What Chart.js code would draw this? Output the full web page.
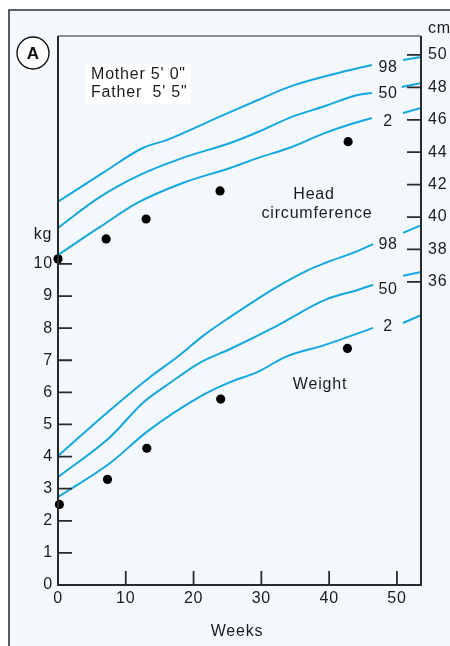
<!DOCTYPE html>
<html>
<head>
<meta charset="utf-8">
<script src="https://cdn.jsdelivr.net/npm/chart.js@4/dist/chart.umd.min.js"></script>
<style>
html,body{margin:0;padding:0;background:#fff;}
#c{display:block;}
</style>
</head>
<body>
<canvas id="c" width="450" height="646"></canvas>
<script>
// ---- Data (weeks on x; weight in kg on left axis; head circumference in cm on right axis) ----
const xTicks = [0, 10, 20, 30, 40, 50];
const kgTicks = [0, 1, 2, 3, 4, 5, 6, 7, 8, 9, 10];
const cmTicks = [36, 38, 40, 42, 44, 46, 48, 50];

// Head circumference percentile curves (null = gap where the percentile label sits)
const head98Weeks = [0, 6.6, 12.5, 16.1, 24.6, 29.5, 34.5, 41.9, 46.3, 48.6, 50.9, 53.6];
const head98Cm    = [40.95, 42.72, 44.26, 44.76, 46.33, 47.22, 48.09, 48.95, 49.38, null, 49.69, 49.88];
const head50Weeks = [0, 6.2, 12.1, 18.4, 25.4, 29.5, 34.5, 39.4, 44.2, 46.3, 48.6, 50.7, 53.6];
const head50Cm    = [39.33, 41.24, 42.60, 43.65, 44.57, 45.25, 46.18, 46.85, 47.53, 47.66, null, 48.03, 48.27];
const head2Weeks  = [0, 6.2, 11.7, 18.4, 25.4, 29.5, 34.5, 39.4, 42.8, 46.3, 48.6, 50.9, 53.6];
const head2Cm     = [37.66, 39.39, 40.87, 42.10, 43.03, 43.65, 44.32, 45.19, 45.68, 46.11, null, 46.42, 46.73];

// Weight percentile curves
const weight98Weeks = [0, 7.7, 13.6, 17.6, 21.4, 25.4, 32.0, 36.9, 39.4, 44.2, 46.5, 48.6, 50.9, 53.6];
const weight98Kg    = [4.02, 5.45, 6.48, 7.10, 7.76, 8.35, 9.25, 9.81, 10.03, 10.40, 10.62, null, 10.97, 11.21];
const weight50Weeks = [0, 7.7, 12.5, 16.5, 20.9, 25.4, 32.0, 39.4, 44.2, 46.5, 48.6, 50.9, 53.6];
const weight50Kg    = [3.36, 4.61, 5.67, 6.29, 6.92, 7.35, 8.04, 8.88, 9.19, 9.35, null, 9.63, 9.75];
const weight2Weeks  = [0, 7.7, 13.1, 21.4, 25.4, 29.5, 33.5, 39.4, 46.5, 48.6, 50.9, 53.6];
const weight2Kg     = [2.74, 3.80, 4.77, 5.92, 6.32, 6.64, 7.10, 7.48, 8.01, null, 8.16, 8.41];

// Measured child
const headDotWeeks = [0, 7.1, 13.0, 23.9, 42.8];
const headDotCm    = [37.42, 38.65, 39.88, 41.61, 44.65];
const weightDotWeeks = [0.2, 7.3, 13.1, 24.0, 42.7];
const weightDotKg    = [2.51, 3.29, 4.26, 5.79, 7.37];

// Percentile labels (week, value)
const percentileLabels = ['98', '50', '2'];
const headLabelWeek = 48.7, headLabelCm = [49.2, 47.6, 45.9];
const weightLabelWeek = 48.7, weightLabelKg = [10.6, 9.2, 8.05];

const FONT = '"Liberation Sans", Arial, Helvetica, sans-serif';
const BLUE = '#12a8e1';
const INK = '#1c1c1c';

const pts = (xs, ys) => xs.map((x, i) => ({x: x, y: ys[i]}));

function curve(label, xs, ys, axis) {
  return {label, data: pts(xs, ys), yAxisID: axis, showLine: true, borderColor: BLUE,
    borderWidth: 2, pointRadius: 0, cubicInterpolationMode: 'monotone', spanGaps: false, fill: false};
}
function dots(label, xs, ys, axis) {
  return {label, data: pts(xs, ys), yAxisID: axis, showLine: false, pointRadius: 4.6,
    pointBackgroundColor: '#000', pointBorderColor: '#000', pointBorderWidth: 0, clip: false};
}

const deco = {
  id: 'deco',
  beforeDraw(chart) {
    const ctx = chart.ctx, W = chart.width, H = chart.height;
    ctx.letterSpacing = '0.8px';
    ctx.save();
    ctx.fillStyle = '#ffffff';
    ctx.fillRect(0, 0, W, H);
    ctx.fillStyle = '#f4f8fc';
    ctx.fillRect(9, 10, W - 9, H - 10);
    ctx.strokeStyle = '#333';
    ctx.lineWidth = 1.6;
    ctx.beginPath();
    ctx.moveTo(9, H); ctx.lineTo(9, 10); ctx.lineTo(W, 10);
    ctx.stroke();
    ctx.restore();
  },
  afterDraw(chart) {
    const ctx = chart.ctx, a = chart.chartArea;
    const sx = chart.scales.x, sy = chart.scales.y, s2 = chart.scales.y2;
    ctx.save();
    ctx.letterSpacing = '0.8px';
    // plot frame
    ctx.strokeStyle = '#2a2a2a';
    ctx.lineWidth = 1.2;
    ctx.beginPath(); ctx.moveTo(a.left, a.top); ctx.lineTo(a.right, a.top); ctx.stroke();
    ctx.lineWidth = 2;
    ctx.beginPath();
    ctx.moveTo(a.left, a.top); ctx.lineTo(a.left, a.bottom); ctx.lineTo(a.right, a.bottom); ctx.lineTo(a.right, a.top);
    ctx.stroke();
    // inside tick marks
    ctx.lineWidth = 1.8;
    ctx.beginPath();
    xTicks.forEach(v => { if (v === 0) return; const px = sx.getPixelForValue(v); ctx.moveTo(px, a.bottom); ctx.lineTo(px, a.bottom - 14); });
    kgTicks.forEach(v => { if (v === 0) return; const py = sy.getPixelForValue(v); ctx.moveTo(a.left, py); ctx.lineTo(a.left + 14, py); });
    cmTicks.forEach(v => { const py = s2.getPixelForValue(v); ctx.moveTo(a.right, py); ctx.lineTo(a.right - 14, py); });
    ctx.stroke();

    // texts
    ctx.fillStyle = INK;
    ctx.textBaseline = 'middle';
    ctx.font = '16px ' + FONT;
    ctx.textAlign = 'center';
    percentileLabels.forEach((t, i) => {
      ctx.fillText(t, sx.getPixelForValue(headLabelWeek), s2.getPixelForValue(headLabelCm[i]));
      ctx.fillText(t, sx.getPixelForValue(weightLabelWeek), sy.getPixelForValue(weightLabelKg[i]));
    });
    ctx.fillText('Head', 314, 195);
    ctx.fillText('circumference', 317, 214);
    ctx.fillText('Weight', 320, 385);
    ctx.fillText('Weeks', 237, 632);
    ctx.fillText('kg', 43, 235);
    ctx.textAlign = 'left';
    ctx.fillText('cm', 428, 29);

    // parents box
    ctx.fillStyle = '#ffffff';
    ctx.fillRect(85, 64, 106, 40);
    ctx.fillStyle = INK;
    ctx.font = '16px ' + FONT;
    ctx.fillText('Mother 5\' 0"', 91, 75);
    ctx.fillText('Father  5\' 5"', 91, 93);

    // panel letter
    ctx.lineWidth = 1.4;
    ctx.strokeStyle = '#111';
    ctx.fillStyle = '#ffffff';
    ctx.beginPath(); ctx.arc(33, 53, 16, 0, Math.PI * 2); ctx.fill(); ctx.stroke();
    ctx.fillStyle = '#111';
    ctx.textAlign = 'center';
    ctx.letterSpacing = '0px';
    ctx.font = 'bold 17px ' + FONT;
    ctx.fillText('A', 33, 54);
    ctx.restore();
  }
};

new Chart(document.getElementById('c'), {
  type: 'scatter',
  data: {
    datasets: [
      curve('Head 98', head98Weeks, head98Cm, 'y2'),
      curve('Head 50', head50Weeks, head50Cm, 'y2'),
      curve('Head 2', head2Weeks, head2Cm, 'y2'),
      curve('Weight 98', weight98Weeks, weight98Kg, 'y'),
      curve('Weight 50', weight50Weeks, weight50Kg, 'y'),
      curve('Weight 2', weight2Weeks, weight2Kg, 'y'),
      dots('Head', headDotWeeks, headDotCm, 'y2'),
      dots('Weight', weightDotWeeks, weightDotKg, 'y')
    ]
  },
  options: {
    responsive: false,
    animation: false,
    devicePixelRatio: 1,
    layout: {padding: {top: 36, left: 0, right: 0, bottom: 0}},
    plugins: {legend: {display: false}, tooltip: {enabled: false}},
    scales: {
      x: {
        type: 'linear', position: 'bottom', min: 0, max: 53.55,
        grid: {display: false, drawTicks: false}, border: {display: false},
        afterBuildTicks: s => { s.ticks = xTicks.map(v => ({value: v})); },
        afterFit: s => { s.height = 61; },
        ticks: {color: INK, font: {size: 16, family: FONT}, padding: 4, maxRotation: 0, autoSkip: false}
      },
      y: {
        type: 'linear', position: 'left', min: 0, max: 17.1,
        grid: {display: false, drawTicks: false}, border: {display: false},
        afterBuildTicks: s => { s.ticks = kgTicks.map(v => ({value: v})); },
        afterFit: s => { s.width = 58; },
        ticks: {color: INK, font: {size: 16, family: FONT}, padding: 5, autoSkip: false}
      },
      y2: {
        type: 'linear', position: 'right', min: 17.3, max: 51.17,
        grid: {display: false, drawTicks: false}, border: {display: false},
        afterBuildTicks: s => { s.ticks = cmTicks.map(v => ({value: v})); },
        afterFit: s => { s.width = 29; },
        ticks: {color: INK, font: {size: 16, family: FONT}, padding: 7, autoSkip: false}
      }
    }
  },
  plugins: [deco]
});
</script>
</body>
</html>
